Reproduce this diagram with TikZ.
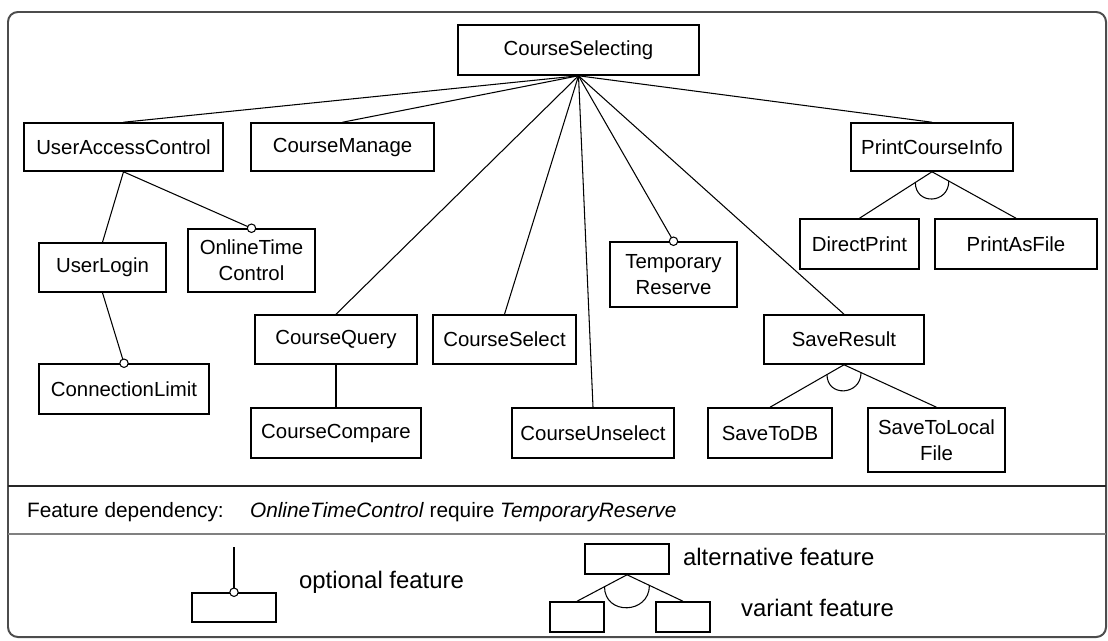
\documentclass[tikz,border=0pt]{standalone}
\usepackage{fontspec}
\setmainfont{Liberation Sans}
\usetikzlibrary{calc}

\tikzset{
  feat/.style 2 args={draw, line width=1.1pt, inner sep=0pt, align=center,
    minimum width=#1*0.025cm, minimum height=#2*0.025cm,
    font=\fontsize{14.5}{18.5}\selectfont},
  link/.style={line width=0.75pt},
  optmark/.style={draw, fill=white, line width=0.75pt},
  legtext/.style={anchor=west, inner sep=2pt, font=\fontsize{17}{20}\selectfont},
  deptext/.style={anchor=west, inner sep=2pt, font=\fontsize{14.8}{17}\selectfont},
}

\begin{document}
\begin{tikzpicture}[x=0.025cm, y=-0.025cm]
  \useasboundingbox (0,0) rectangle (1108,640);
  % frame and separators
  \draw[line width=1.4pt, black!70, rounded corners=7pt] (8,12) rectangle (1106,637);
  \draw[line width=1.1pt, black!85] (8,486) -- (1106,486);
  \draw[line width=1.8pt, black!50] (8,534) -- (1106,534);

  % feature tree
  \node[feat={241}{50}] (sel) at (578.5,50) {CourseSelecting};
  \node[feat={199}{48}] (uac) at (123.5,147) {UserAccessControl};
  \node[feat={183}{48}] (mng) at (342.5,147) {CourseManage};
  \node[feat={162}{48}] (pci) at (932,147) {PrintCourseInfo};
  \node[feat={127}{49}] (login) at (102.5,267.5) {UserLogin};
  \node[feat={127}{63}] (otc) at (251.5,260.5) {OnlineTime\\Control};
  \node[feat={170}{50}] (conn) at (124,389) {ConnectionLimit};
  \node[feat={162}{49}] (query) at (336,339.5) {CourseQuery};
  \node[feat={170}{50}] (compare) at (336,433) {CourseCompare};
  \node[feat={143}{49}] (select) at (504.5,339.5) {CourseSelect};
  \node[feat={162}{50}] (unselect) at (593,433) {CourseUnselect};
  \node[feat={127}{65}] (tmp) at (673.5,274.5) {Temporary\\Reserve};
  \node[feat={119}{50}] (direct) at (859.5,244) {DirectPrint};
  \node[feat={162}{50}] (asfile) at (1016,244) {PrintAsFile};
  \node[feat={160}{49}] (save) at (844,339.5) {SaveResult};
  \node[feat={124}{50}] (todb) at (770,433) {SaveToDB};
  \node[feat={137}{64}] (tolocal) at (936.5,440) {SaveToLocal\\File};

  \foreach \c in {uac,mng,query,select,unselect,tmp,save,pci}
    \draw[link] (sel.south) -- (\c.north);
  \draw[link] (uac.south) -- (login.north);
  \draw[link] (uac.south) -- (otc.north);
  \draw[link] (login.south) -- (conn.north);
  \draw[link] (query.south) -- (compare.north);
  \draw[link] (pci.south) -- (direct.north);
  \draw[link] (pci.south) -- (asfile.north);
  \draw[link] (save.south) -- (todb.north);
  \draw[link] (save.south) -- (tolocal.north);

  % optional marks
  \foreach \c in {otc,conn,tmp}
    \draw[optmark] (\c.north) circle (3pt);

  % alternative arcs
  \coordinate (pa) at ($(pci.south)!0.23!(direct.north)$);
  \coordinate (pb) at ($(pci.south)!0.2!(asfile.north)$);
  \draw[link] (pa) .. controls +(0,23) and +(0,23) .. (pb);
  \coordinate (sa) at ($(save.south)!0.23!(todb.north)$);
  \coordinate (sb) at ($(save.south)!0.184!(tolocal.north)$);
  \draw[link] (sa) .. controls +(0,23) and +(0,23) .. (sb);

  % dependency
  \node[deptext] (dep) at (24,512) {Feature dependency:};
  \node[deptext] (deprule) at (247,512) {\textit{OnlineTimeControl} require \textit{TemporaryReserve}};

  % legend
  \node[feat={84}{29}] (optbox) at (234,607.5) {};
  \coordinate (opttop) at ($(optbox.north)+(0,-45)$);
  \draw[link] (opttop) -- (optbox.north);
  \draw[optmark] (optbox.north) circle (3pt);
  \node[legtext] (optlabel) at (296,582) {optional feature};

  \node[feat={84}{30}] (altbox) at (627,559) {};
  \node[feat={54}{30}] (varl) at (577,617) {};
  \node[feat={54}{30}] (varr) at (683,617) {};
  \draw[link] (altbox.south) -- (varl.north);
  \draw[link] (altbox.south) -- (varr.north);
  \coordinate (la) at ($(altbox.south)!0.45!(varl.north)$);
  \coordinate (lb) at ($(altbox.south)!0.4!(varr.north)$);
  \draw[link] (la) .. controls +(0,29) and +(0,29) .. (lb);
  \node[legtext] (altlabel) at (680,557) {alternative feature};
  \node[legtext] (varlabel) at (738,608) {variant feature};
\end{tikzpicture}
\end{document}
